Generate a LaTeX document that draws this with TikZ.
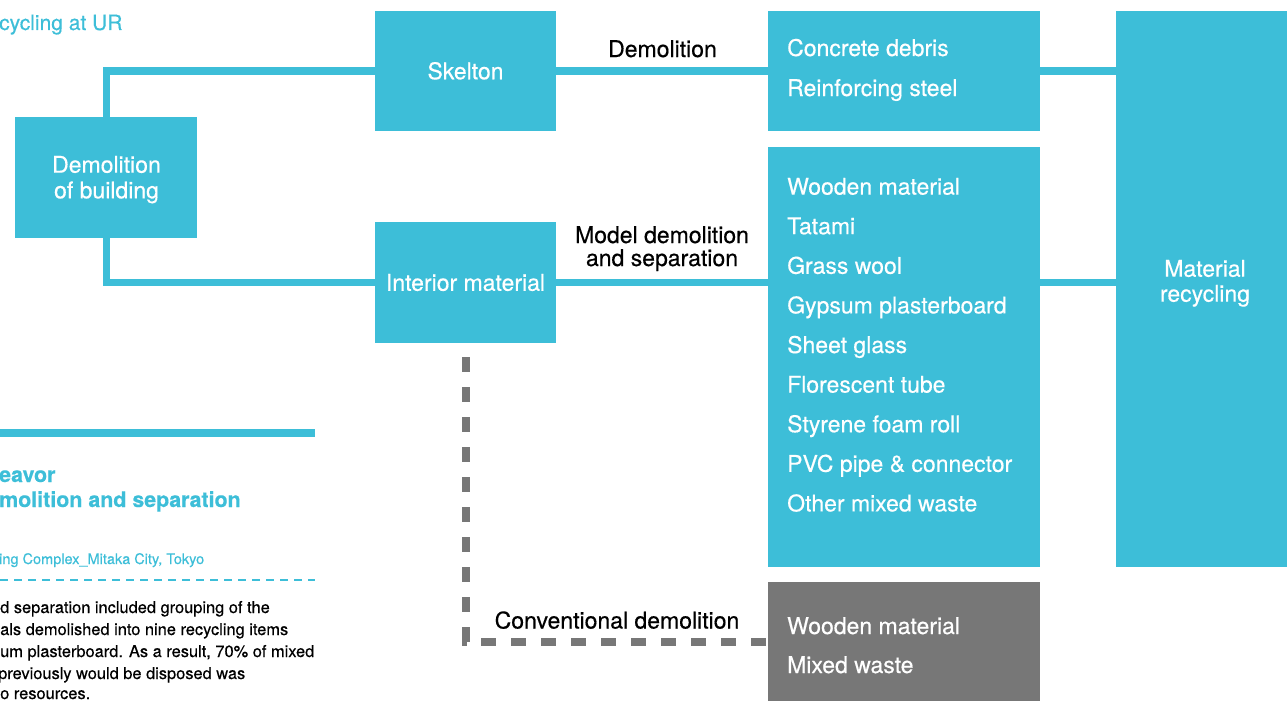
\documentclass[tikz,border=0pt]{standalone}
\usepackage{fontspec}
\setmainfont[FakeBold=0.4]{TeX Gyre Heros}
\usepackage{tikz}
\definecolor{celeste}{RGB}{61,190,216}
\definecolor{gris}{RGB}{119,119,119}

\begin{document}
\begin{tikzpicture}[x=1pt,y=-1pt,
	caja/.style={rectangle,fill=celeste,inner sep=0pt,text=white,font=\fontsize{23}{25}\selectfont,text height=16.5pt,text depth=0pt},
	cajagris/.style={caja,fill=gris},
	linea/.style={celeste,line width=7pt},
	lineagris/.style={gris,line width=8pt,dash pattern=on 15pt off 15pt,dash phase=16pt},
	texto/.style={anchor=base,inner sep=0pt,font=\fontsize{23}{25}\selectfont},
	item/.style={texto,anchor=base west,text=white},
	titulo/.style={anchor=base west,inner sep=0pt,text=celeste},
	cuerpo/.style={anchor=base west,inner sep=0pt,font=\fontsize{16.4}{22}\selectfont}]
	\useasboundingbox (0,0) rectangle (1287,701);

	% cajas del diagrama
	\path
	(106,177.5) node(a) [caja,minimum width=182pt,minimum height=121pt] {}
	(465.5,71) node(b) [caja,minimum width=181pt,minimum height=120pt] {Skelton}
	(465.5,282.5) node(c) [caja,minimum width=181pt,minimum height=121pt] {Interior material}
	(904,71) node(d) [caja,minimum width=272pt,minimum height=120pt] {}
	(904,357) node(e) [caja,minimum width=272pt,minimum height=420pt] {}
	(904,641.5) node(f) [cajagris,minimum width=272pt,minimum height=119pt] {}
	(1206,289) node(g) [caja,minimum width=180pt,minimum height=556pt] {};

	\path
	(106.5,172.7) node(a1) [texto,text=white] {Demolition}
	(106.5,198.3) node(a2) [texto,text=white] {of building}
	(1205,276.7) node(g1) [texto,text=white] {Material}
	(1205,301.7) node(g2) [texto,text=white] {recycling}
	(787,56) node(d1) [item] {Concrete debris}
	(787,96) node(d2) [item] {Reinforcing steel}
	(787,634) node(f1) [item] {Wooden material}
	(787,673) node(f2) [item] {Mixed waste};

	\foreach \t [count=\i] in {Wooden material,Tatami,Grass wool,Gypsum plasterboard,Sheet glass,Florescent tube,Styrene foam roll,PVC pipe \& connector,Other mixed waste}
		\node (e\i) [item] at (787,{155+39.6*\i}) {\t};

	% conexiones
	\draw[linea] (b.west) -| (a.north);
	\draw[linea] (c.west) -| (a.south);
	\draw[linea] (b.east) -- (d.west);
	\draw[linea] (c.east) -- (c.east -| e.west);
	\draw[linea] (d.east) -- (d.east -| g.west);
	\draw[linea] (e.east |- c.east) -- (g.west |- c.east);
	\draw[lineagris] (c.south) |- (f.west);

	\path
	(662.5,57) node(l1) [texto] {Demolition}
	(662,243) node(l2) [texto] {Model demolition}
	(662,266) node(l3) [texto] {and separation}
	(617,628.5) node(l4) [texto] {Conventional demolition};

	% columna de la izquierda
	\node (t1) [titulo,font=\fontsize{21}{25}\selectfont] at (-1,30) {cycling at UR};
	\draw[celeste,line width=8pt] (0,433) -- (315,433);
	\node (t2) [titulo,font=\fontsize{21.4}{25}\bfseries] at (-1,482) {eavor};
	\node (t3) [titulo,font=\fontsize{21.4}{25}\bfseries] at (-1,507) {molition and separation};
	\node (t4) [titulo,font=\fontsize{14.5}{18}\selectfont] at (-1,564) {ing Complex\_Mitaka City, Tokyo};
	\draw[celeste,line width=1.3pt,dash pattern=on 8pt off 6pt] (0,580) -- (315,580);
	\foreach \t [count=\i] in {d separation included grouping of the,als demolished into nine recycling items,um plasterboard. As a result{,} 70\% of mixed,previously would be disposed was,o resources.}
		\node (p\i) [cuerpo] at ({\i==4 ? -2 : 0},{591+22*\i-(\i==5 ? 2 : 0)}) {\t};
\end{tikzpicture}
\end{document}
